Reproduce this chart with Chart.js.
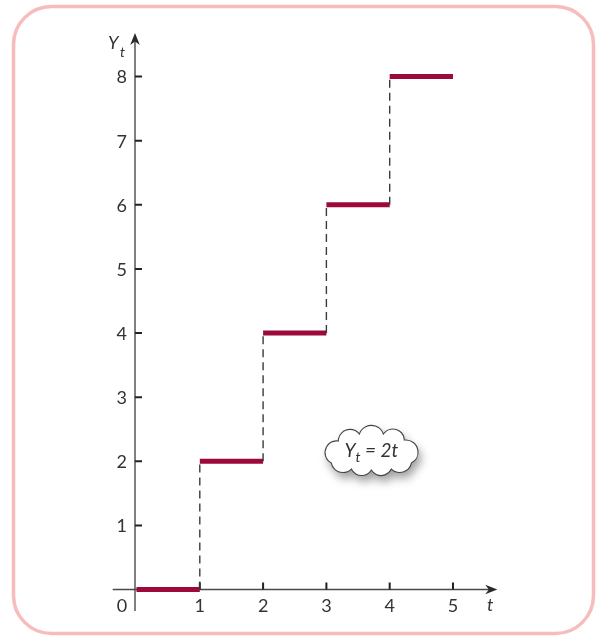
<!DOCTYPE html>
<html>
<head>
<meta charset="utf-8">
<script src="https://cdn.jsdelivr.net/npm/chart.js@4.4.0/dist/chart.umd.min.js"></script>
<style>
  html, body { margin: 0; padding: 0; background: #fff; }
  canvas { display: block; }
</style>
</head>
<body>
<canvas id="stepChart" width="597" height="637"></canvas>
<script>
// Y_t = 2t, held constant over each period [t, t+1)
const periods = [0, 1, 2, 3, 4];
const levels = [0, 2, 4, 6, 8];
const xTicks = [1, 2, 3, 4, 5];
const yTicks = [1, 2, 3, 4, 5, 6, 7, 8];
const cloudText = ["Y", "t", " = 2t"];
const cloudAt = { x: 3.71, y: 2.16 };

const RED = "#9c0a3c";
const INK = "#333";
const FONT = "Lato, 'Open Sans', sans-serif";

// cusp points of the cloud outline (px from its centre) and bump depth per edge
const cloudCusps = [
  [-40, 12], [-33, -10], [-12, -17], [12, -17], [33, -11],
  [40, 12], [20, 18], [0, 19], [-20, 18]
];
const cloudBulge = [0.42, 0.36, 0.36, 0.36, 0.42, 0.3, 0.3, 0.3, 0.3];

// step points: each level runs to the next period, then a jump
const stepPoints = [];
periods.forEach((t, i) => {
  stepPoints.push({ x: t, y: levels[i] });
  stepPoints.push({ x: t + 1, y: levels[i] });
});

const isJump = ctx => ctx.p0.parsed.x === ctx.p1.parsed.x;

function roundRect(ctx, x, y, w, h, r) {
  ctx.beginPath();
  ctx.moveTo(x + r, y);
  ctx.arcTo(x + w, y, x + w, y + h, r);
  ctx.arcTo(x + w, y + h, x, y + h, r);
  ctx.arcTo(x, y + h, x, y, r);
  ctx.arcTo(x, y, x + w, y, r);
  ctx.closePath();
}

// each bump is a circular arc through two cusps, bulging outward
function cloudPath(ctx, cx, cy) {
  ctx.beginPath();
  const n = cloudCusps.length;
  for (let i = 0; i < n; i++) {
    const [x0, y0] = cloudCusps[i];
    const [x1, y1] = cloudCusps[(i + 1) % n];
    const dx = x1 - x0, dy = y1 - y0;
    const c = Math.hypot(dx, dy);
    const s = cloudBulge[i] * c;
    const r = (c * c / 4 + s * s) / (2 * s);
    // outward normal for a clockwise (screen) loop
    const nx = dy / c, ny = -dx / c;
    const mx = (x0 + x1) / 2, my = (y0 + y1) / 2;
    const ccx = mx - nx * (r - s), ccy = my - ny * (r - s);
    const a0 = Math.atan2(y0 - ccy, x0 - ccx);
    const a1 = Math.atan2(y1 - ccy, x1 - ccx);
    ctx.arc(cx + ccx, cy + ccy, r, a0, a1, false);
  }
  ctx.closePath();
}

function arrow(ctx, x, y, dir) {
  ctx.save();
  ctx.translate(x, y);
  if (dir === "up") ctx.rotate(-Math.PI / 2);
  ctx.beginPath();
  ctx.moveTo(0, 0);
  ctx.lineTo(-12, -4.8);
  ctx.lineTo(-8.5, 0);
  ctx.lineTo(-12, 4.8);
  ctx.closePath();
  ctx.fillStyle = "#2a2a2a";
  ctx.fill();
  ctx.restore();
}

const framePlugin = {
  id: "frame",
  beforeDraw(chart) {
    const ctx = chart.ctx;
    ctx.save();
    ctx.fillStyle = "#fff";
    ctx.fillRect(0, 0, chart.width, chart.height);
    ctx.strokeStyle = "#f7bcbc";
    ctx.lineWidth = 3.5;
    roundRect(ctx, 13.5, 6.5, 580, 627, 38);
    ctx.stroke();
    ctx.restore();
  }
};

const axesPlugin = {
  id: "axes",
  beforeDatasetsDraw(chart) {
    const { ctx, chartArea: area } = chart;
    const xs = chart.scales.x, ys = chart.scales.y;
    const ox = xs.getPixelForValue(0) - 1.5;
    const oy = ys.getPixelForValue(0);
    ctx.save();
    ctx.strokeStyle = "#4a4a4a";
    ctx.lineWidth = 1.4;
    ctx.beginPath();
    ctx.moveTo(area.left, oy);
    ctx.lineTo(area.right - 6, oy);
    ctx.moveTo(ox, area.bottom);
    ctx.lineTo(ox, area.top + 6);
    ctx.stroke();
    arrow(ctx, area.right, oy, "right");
    arrow(ctx, ox, area.top, "up");

    // tick marks
    ctx.strokeStyle = "#222";
    ctx.lineWidth = 2;
    ctx.beginPath();
    xTicks.forEach(v => {
      const px = xs.getPixelForValue(v);
      ctx.moveTo(px, oy);
      ctx.lineTo(px, oy - 7);
    });
    yTicks.forEach(v => {
      const py = ys.getPixelForValue(v);
      ctx.moveTo(ox, py);
      ctx.lineTo(ox + 7, py);
    });
    ctx.stroke();

    // tick labels
    ctx.fillStyle = INK;
    ctx.font = "18px " + FONT;
    ctx.textBaseline = "middle";
    ctx.textAlign = "right";
    yTicks.forEach(v => ctx.fillText(String(v), ox - 8, ys.getPixelForValue(v) + 1));
    ctx.textAlign = "center";
    xTicks.forEach(v => ctx.fillText(String(v), xs.getPixelForValue(v), oy + 17));
    ctx.fillText("0", ox - 13, oy + 17);

    // axis titles
    ctx.font = "italic 18px " + FONT;
    ctx.fillText("t", area.right - 7, oy + 16);
    ctx.textAlign = "left";
    ctx.fillText("Y", ox - 27, area.top + 10);
    ctx.font = "italic 14px " + FONT;
    ctx.fillText("t", ox - 15, area.top + 19);
    ctx.restore();
  },
  afterDatasetsDraw(chart) {
    const ctx = chart.ctx;
    const cx = chart.scales.x.getPixelForValue(cloudAt.x);
    const cy = chart.scales.y.getPixelForValue(cloudAt.y);
    ctx.save();
    ctx.shadowColor = "rgba(0,0,0,0.38)";
    ctx.shadowBlur = 10;
    ctx.shadowOffsetX = 3;
    ctx.shadowOffsetY = 6;
    cloudPath(ctx, cx, cy);
    ctx.fillStyle = "#fff";
    ctx.fill();
    ctx.shadowColor = "transparent";
    ctx.strokeStyle = "#444";
    ctx.lineWidth = 1.1;
    ctx.stroke();

    // Y_t = 2t
    ctx.fillStyle = INK;
    ctx.textBaseline = "middle";
    ctx.textAlign = "left";
    const big = "italic 19px " + FONT;
    const small = "italic 14px " + FONT;
    ctx.font = big;
    const wY = ctx.measureText(cloudText[0]).width;
    const wRest = ctx.measureText(cloudText[2]).width;
    ctx.font = small;
    const wt = ctx.measureText(cloudText[1]).width;
    let x = cx - (wY + wt + wRest) / 2;
    ctx.font = big;
    ctx.fillText(cloudText[0], x, cy);
    x += wY;
    ctx.font = small;
    ctx.fillText(cloudText[1], x, cy + 6);
    x += wt;
    ctx.font = big;
    ctx.fillText(cloudText[2], x, cy);
    ctx.restore();
  }
};

new Chart(document.getElementById("stepChart"), {
  type: "line",
  data: {
    datasets: [{
      data: stepPoints,
      borderColor: RED,
      borderWidth: 5,
      borderCapStyle: "butt",
      pointRadius: 0,
      tension: 0,
      fill: false,
      segment: {
        borderColor: ctx => isJump(ctx) ? "#3a3a3a" : RED,
        borderWidth: ctx => isJump(ctx) ? 1.4 : 5,
        borderDash: ctx => isJump(ctx) ? [8, 5] : []
      }
    }]
  },
  options: {
    responsive: false,
    animation: false,
    layout: { padding: { left: 112.7, right: 99.7, top: 33, bottom: 26 } },
    plugins: { legend: { display: false }, tooltip: { enabled: false } },
    scales: {
      x: { type: "linear", min: -0.376, max: 5.70, display: false },
      y: { type: "linear", min: -0.335, max: 8.68, display: false }
    }
  },
  plugins: [framePlugin, axesPlugin]
});
</script>
</body>
</html>
